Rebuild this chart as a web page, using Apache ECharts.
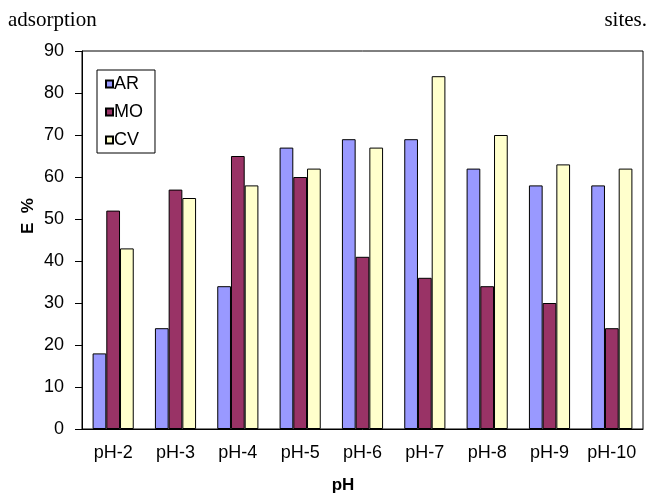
<!DOCTYPE html>
<html>
<head>
<meta charset="utf-8">
<script src="https://cdn.jsdelivr.net/npm/echarts@6/dist/echarts.min.js"></script>
<style>
  html, body { margin: 0; padding: 0; background: #fff; }
  #chart { width: 651px; height: 493px; }
</style>
</head>
<body>
<div id="chart"></div>
<script>
var categories = ['pH-2', 'pH-3', 'pH-4', 'pH-5', 'pH-6', 'pH-7', 'pH-8', 'pH-9', 'pH-10'];
var ar_values = [18, 24, 34, 67, 69, 69, 62, 58, 58];
var mo_values = [52, 57, 65, 60, 41, 36, 34, 30, 24];
var cv_values = [43, 55, 58, 62, 67, 84, 70, 63, 62];

var chart = echarts.init(document.getElementById('chart'));

var font = 'Liberation Sans, Arial, sans-serif';

function barSeries(name, data, color) {
  return {
    name: name,
    type: 'bar',
    data: data,
    barGap: '0%',
    barCategoryGap: '34%',
    animation: false,
    itemStyle: {
      color: color,
      borderColor: '#000',
      borderWidth: 1
    }
  };
}

var option = {
  backgroundColor: '#fff',
  grid: {
    left: 82,
    right: 8,
    top: 51,
    bottom: 64,
    show: true,
    borderColor: '#000',
    borderWidth: 1
  },
  legend: {
    left: 97,
    top: 70,
    orient: 'vertical',
    icon: 'rect',
    itemWidth: 7,
    itemHeight: 7,
    itemGap: 10,
    padding: [5, 12, 4, 8],
    borderColor: '#000',
    borderWidth: 1,
    textStyle: { fontFamily: font, fontSize: 18, color: '#000', padding: [0, 0, 0, -4] },
    data: ['AR', 'MO', 'CV']
  },
  xAxis: {
    type: 'category',
    data: categories,
    axisLine: { lineStyle: { color: '#000', width: 1 } },
    axisTick: { length: 5, lineStyle: { color: '#000' } },
    axisLabel: { interval: 0, fontFamily: font, fontSize: 18, color: '#000', margin: 15 }
  },
  yAxis: {
    type: 'value',
    min: 0,
    max: 90,
    interval: 10,
    splitLine: { show: false },
    axisLine: { show: true, lineStyle: { color: '#000', width: 1 } },
    axisTick: { show: true, length: 7, lineStyle: { color: '#000' } },
    axisLabel: { fontFamily: font, fontSize: 18, color: '#000', margin: 18 }
  },
  graphic: [
    {
      type: 'text',
      left: 8,
      top: 10,
      style: { text: 'adsorption', font: '21px "Liberation Serif", "Times New Roman", serif', fill: '#000' }
    },
    {
      type: 'text',
      right: 4,
      top: 10,
      style: { text: 'sites.', font: '21px "Liberation Serif", "Times New Roman", serif', fill: '#000' }
    },
    {
      type: 'text',
      x: 343,
      y: 485,
      style: { text: 'pH', font: 'bold 17px ' + font, fill: '#000', align: 'center', verticalAlign: 'middle' }
    },
    {
      type: 'text',
      x: 28,
      y: 216,
      rotation: Math.PI / 2,
      style: { text: 'E  %', font: 'bold 17px ' + font, fill: '#000', align: 'center', verticalAlign: 'middle' }
    }
  ],
  series: [
    barSeries('AR', ar_values, '#9999ff'),
    barSeries('MO', mo_values, '#993366'),
    barSeries('CV', cv_values, '#ffffcc')
  ]
};

chart.setOption(option);
</script>
</body>
</html>
